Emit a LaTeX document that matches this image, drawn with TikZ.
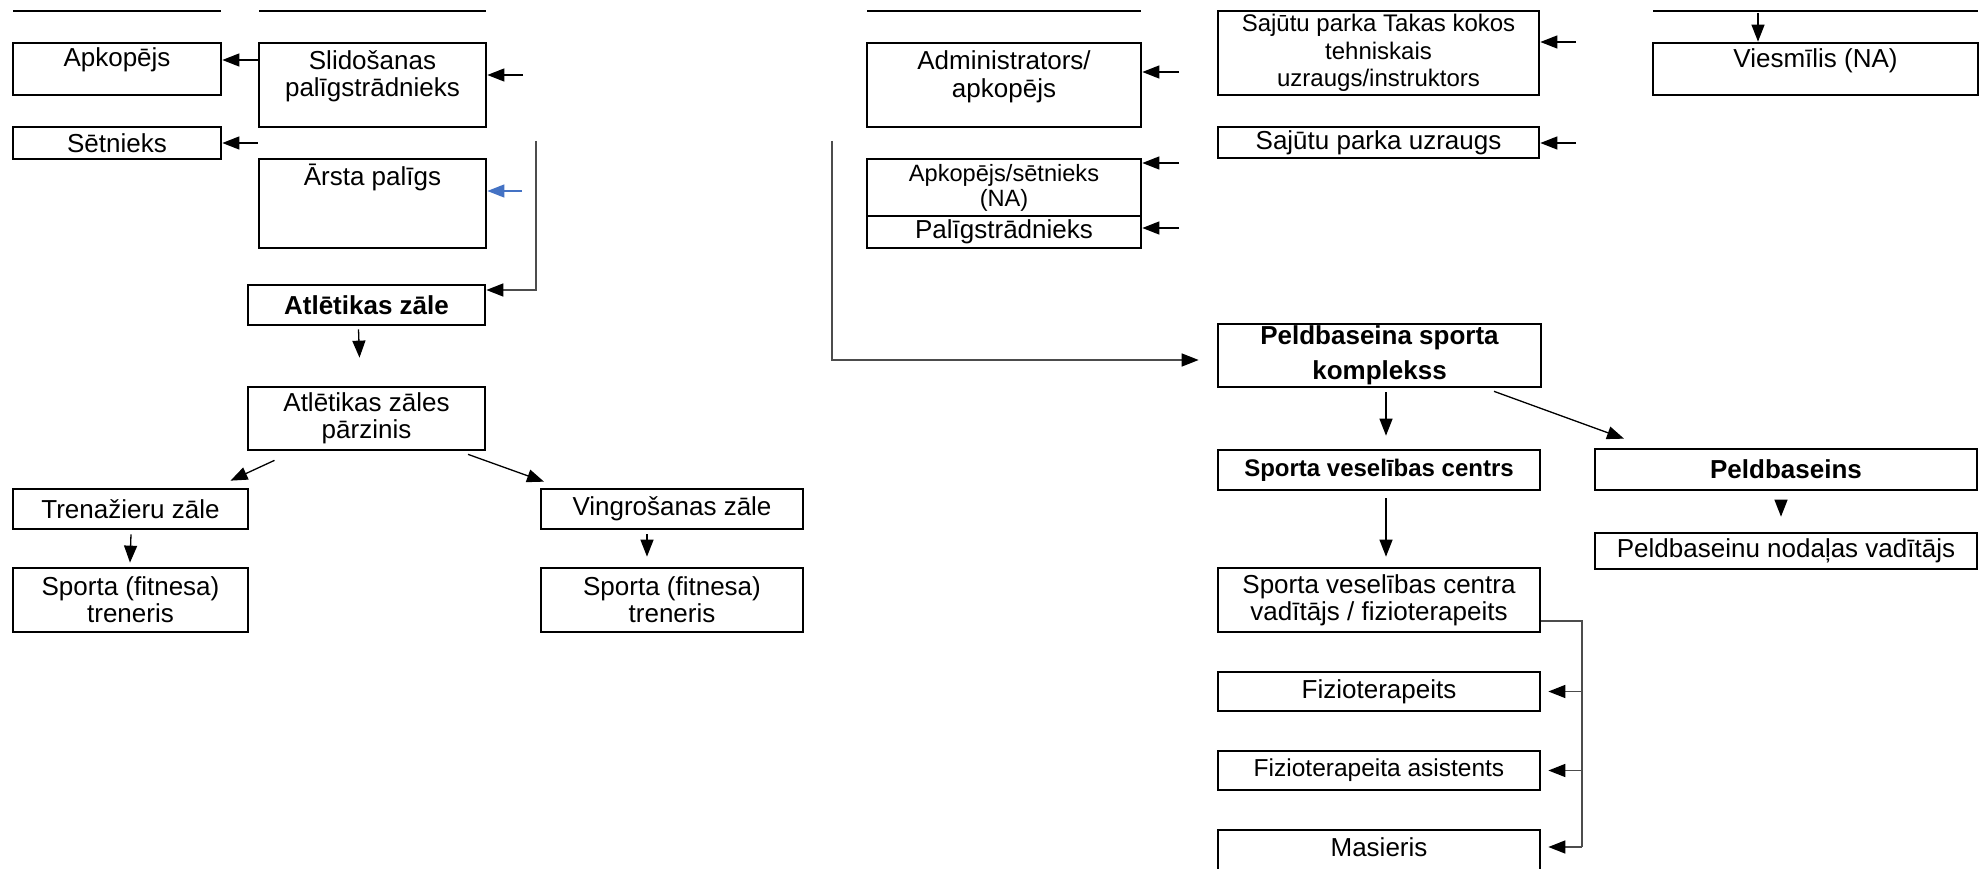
\documentclass[tikz,border=0pt]{standalone}
\usepackage{fontspec}
\setmainfont{Liberation Sans}
\usetikzlibrary{arrows.meta,calc}

\definecolor{arrblue}{HTML}{4472C4}

\tikzset{
  txt/.style={inner sep=0pt, align=center, font=\fontsize{26}{27}\selectfont},
  box/.style={txt, draw, line width=2.7pt},
  boldtxt/.style={font=\fontsize{26}{27}\selectfont\bfseries},
  topline/.style={line width=2.7pt},
  arr/.style={-{Triangle[length=17pt,width=13pt]}, line width=1.3pt},
  link/.style={line width=1.5pt, draw=black!70},
  arrg/.style={link, -{Triangle[length=17pt,width=13pt,color=black]}},
}

\begin{document}
\begin{tikzpicture}[x=1pt,y=-1pt]
    \useasboundingbox (0,0) rectangle (1980,869);

    % cut-off boxes at the top
    \draw[topline] (13,11) -- (221,11);
    \draw[topline] (259,11) -- (486,11);
    \draw[topline] (867,11) -- (1141,11);
    \draw[topline] (1653,11) -- (1978,11);

    % left part
    \node[box, minimum width=208pt, minimum height=52pt] (apk) at (117,69) {};
    \node[txt] (apkT) at (117,60) {Apkopējs};
    \node[box, minimum width=227pt, minimum height=84pt] (slid) at (372.5,85) {};
    \node[txt] (slidT) at (372.5,76.5) {Slidošanas\\palīgstrādnieks};
    \node[box, minimum width=208pt, minimum height=32pt] (set) at (117,143) {Sētnieks};
    \node[box, minimum width=227pt, minimum height=89pt] (arsta) at (372.5,203.5) {};
    \node[txt] (arstaT) at (372.5,177) {Ārsta palīgs};

    \node[box, boldtxt, minimum width=237pt, minimum height=40pt] (atlz) at (366.5,305) {Atlētikas zāle};
    \node[box, minimum width=237pt, minimum height=63pt] (atlp) at (366.5,418.5) {Atlētikas zāles\\pārzinis};
    \node[box, minimum width=235pt, minimum height=40pt] (tren) at (130.5,509) {Trenažieru zāle};
    \node[box, minimum width=235pt, minimum height=64pt] (trenL) at (130.5,600) {Sporta (fitnesa)\\treneris};
    \node[box, minimum width=262pt, minimum height=40pt] (ving) at (672,509) {Vingrošanas zāle};
    \node[box, minimum width=262pt, minimum height=64pt] (trenR) at (672,600) {Sporta (fitnesa)\\treneris};

    \draw[arr] (slid.west |- apkT) -- (apk.east |- apkT);
    \coordinate (slidIn) at (523,75);
    \draw[arr] (slidIn) -- (slid.east |- slidIn);
    \draw[arr] (slid.west |- set.east) -- (set.east);
    \coordinate (arstaIn) at (522,191);
    \draw[arr, color=arrblue] (arstaIn) -- (arsta.east |- arstaIn);
    \coordinate (atlIn) at (536,141);
    \draw[arrg] (atlIn) |- ($(atlz.east)+(0,-15)$);

    \draw[arr] ($(atlz.south)+(-8,3)$) -- ($(atlp.north)+(-7,-28)$);
    \draw[arr] ($(atlp.south)+(-92,9)$) -- ($(tren.north)+(100,-7)$);
    \draw[arr] ($(atlp.south)+(101.5,3)$) -- ($(ving.north)+(-128,-6)$);
    \draw[arr] ($(tren.south)+(0.5,4)$) -- ($(trenL.north)+(-0.5,-4)$);
    \draw[arr] ($(ving.south)+(-25,4)$) -- ($(trenR.north)+(-25,-10)$);

    % middle part
    \node[box, minimum width=274pt, minimum height=84pt] (adm) at (1004,85) {};
    \node[txt, font=\fontsize{26}{28}\selectfont] (admT) at (1004,77) {Administrators/\\apkopējs};
    \node[box, font=\fontsize{23.6}{25}\selectfont, minimum width=274pt, minimum height=57pt] (apse) at (1004,187.5) {Apkopējs/sētnieks\\(NA)};
    \node[box, minimum width=274pt, minimum height=32pt] (palg) at (1004,232) {Palīgstrādnieks};

    \node[box, font=\fontsize{24}{27.5}\selectfont, minimum width=321pt, minimum height=84pt] (tak) at (1378.5,53) {Sajūtu parka Takas kokos\\tehniskais\\uzraugs/instruktors};
    \node[box, minimum width=321pt, minimum height=31pt] (suz) at (1378.5,142.5) {Sajūtu parka uzraugs};
    \node[box, minimum width=325pt, minimum height=52pt] (viesm) at (1815.5,69) {};
    \node[txt] (viesmT) at (1815.5,61) {Viesmīlis (NA)};

    \coordinate (admIn) at (1179,72);
    \draw[arr] (admIn) -- (adm.east |- admIn);
    \coordinate (apseIn) at (1179,163);
    \draw[arr] (apseIn) -- (apse.east |- apseIn);
    \coordinate (palgIn) at (1179,228);
    \draw[arr] (palgIn) -- (palg.east |- palgIn);
    \coordinate (takIn) at (1576,42);
    \draw[arr] (takIn) -- (tak.east |- takIn);
    \coordinate (suzIn) at (1576,143);
    \draw[arr] (suzIn) -- (suz.east |- suzIn);
    \coordinate (viesmIn) at (1758,13);
    \draw[arr] (viesmIn) -- (viesmIn |- viesm.north);

    % right lower part
    \node[box, font=\fontsize{26}{35}\selectfont\bfseries, minimum width=323pt, minimum height=63pt] (peld) at (1379.5,355.5) {Peldbaseina sporta\\komplekss};
    \node[box, font=\fontsize{24}{27}\selectfont\bfseries, minimum width=322pt, minimum height=40pt] (svc) at (1379,470) {Sporta veselības centrs};
    \node[box, boldtxt, minimum width=382pt, minimum height=41pt] (pb) at (1786,469.5) {Peldbaseins};
    \node[box, minimum width=382pt, minimum height=36pt] (pbv) at (1786,551) {Peldbaseinu nodaļas vadītājs};
    \node[box, minimum width=322pt, minimum height=64pt] (svcv) at (1379,600) {Sporta veselības centra\\vadītājs / fizioterapeits};
    \node[box, minimum width=322pt, minimum height=39pt] (fiz) at (1379,691.5) {Fizioterapeits};
    \node[box, font=\fontsize{24.5}{27}\selectfont, minimum width=322pt, minimum height=39pt] (fiza) at (1379,770.5) {Fizioterapeita asistents};
    \node[box, minimum width=322pt, minimum height=44pt] (mas) at (1379,852) {};
    \node[txt] (masT) at (1379,847) {Masieris};

    \coordinate (peldIn) at (832,141);
    \draw[arrg] (peldIn) |- ($(peld.west)+(-18,4.5)$);
    \draw[arr] ($(peld.south)+(6.5,4)$) -- ($(svc.north)+(7,-13)$);
    \draw[arr] ($(peld.south)+(114.5,3)$) -- ($(pb.north)+(-162,-9)$);
    \draw[arr] ($(svc.south)+(7,7)$) -- ($(svcv.north)+(7,-10)$);
    \draw[arr] ($(pb.south)+(-5,10)$) -- ($(pbv.north)+(-5,-15)$);

    \coordinate (fork) at (1582,621);
    \draw[link] ($(svcv.east)+(0,21)$) -- (fork) -- (fork |- masT);
    \draw[arrg] (fork |- fiz.east) -- ($(fiz.east)+(7,0)$);
    \draw[arrg] (fork |- fiza.east) -- ($(fiza.east)+(7,0)$);
    \draw[arrg] (fork |- masT) -- ($(mas.east |- masT)+(7,0)$);
\end{tikzpicture}
\end{document}
